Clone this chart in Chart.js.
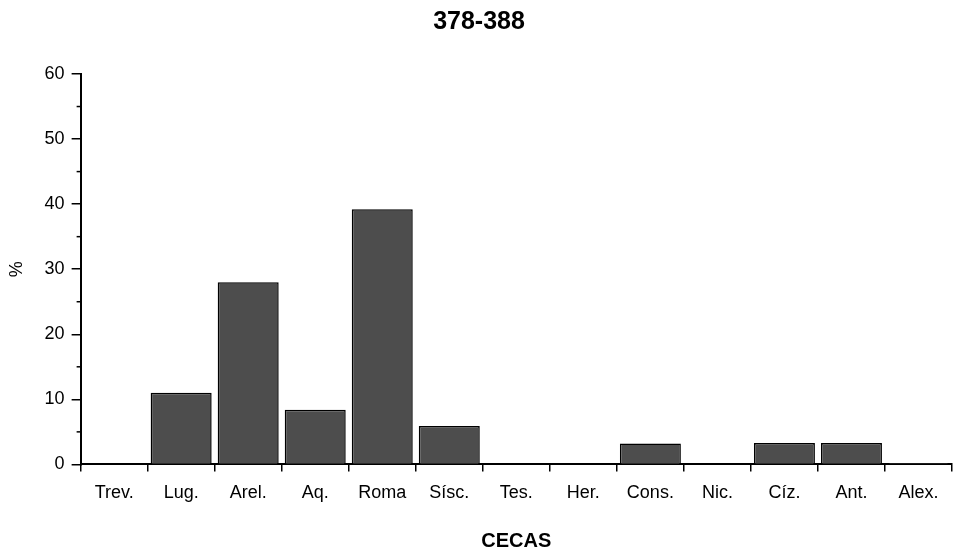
<!DOCTYPE html>
<html>
<head>
<meta charset="utf-8">
<script src="https://cdn.jsdelivr.net/npm/chart.js@4"></script>
<style>
  html, body { margin: 0; padding: 0; background: #fff; }
  #wrap { width: 961px; height: 554px; }
</style>
</head>
<body>
<div id="wrap"><canvas id="chart"></canvas></div>
<script>
// Mints (cecas) and share of coins, 378-388
const cecas = ['Trev.', 'Lug.', 'Arel.', 'Aq.', 'Roma', 'Sísc.', 'Tes.', 'Her.', 'Cons.', 'Nic.', 'Cíz.', 'Ant.', 'Alex.'];
const percent = [0, 11, 28, 8.4, 39.2, 5.9, 0, 0, 3.2, 0, 3.3, 3.3, 0.2];
const yTicks = [0, 10, 20, 30, 40, 50, 60];

const FONT = "'Liberation Sans', Arial, Helvetica, sans-serif";

// short minor ticks at the 5s on the y axis
const minorTicks = {
    id: 'minorTicks',
    afterDraw(chart) {
        const y = chart.scales.y, ctx = chart.ctx;
        const x0 = chart.chartArea.left;
        ctx.save();
        ctx.strokeStyle = '#000';
        ctx.lineWidth = 1.5;
        for (let v = 5; v < 60; v += 10) {
            const py = y.getPixelForValue(v);
            ctx.beginPath();
            ctx.moveTo(x0 - 4, py);
            ctx.lineTo(x0, py);
            ctx.stroke();
        }
        ctx.restore();
    }
};

new Chart(document.getElementById('chart'), {
    type: 'bar',
    data: {
        labels: cecas,
        datasets: [{
            data: percent,
            backgroundColor: '#4d4d4d',
            borderColor: '#000',
            borderWidth: 1.5,
            categoryPercentage: 1,
            barPercentage: 0.91
        }]
    },
    options: {
        responsive: true,
        maintainAspectRatio: false,
        animation: false,
        layout: { padding: { left: 6, right: 9, top: 2, bottom: 1 } },
        plugins: {
            legend: { display: false },
            tooltip: { enabled: false },
            title: {
                display: true,
                text: '378-388',
                color: '#000',
                font: { family: FONT, size: 25, weight: 'bold' },
                padding: { top: 5, bottom: 37 }
            }
        },
        scales: {
            x: {
                offset: true,
                grid: { display: true, drawOnChartArea: false, offset: true, color: '#000', lineWidth: 1.5, tickLength: 7 },
                border: { display: true, color: '#000', width: 2 },
                ticks: { color: '#000', font: { family: FONT, size: 18 }, padding: 11, maxRotation: 0, autoSkip: false },
                title: {
                    display: true, text: 'CECAS', color: '#000',
                    font: { family: FONT, size: 20, weight: 'bold' },
                    padding: { top: 14, bottom: 0 }
                }
            },
            y: {
                min: 0, max: 60,
                afterBuildTicks: scale => { scale.ticks = yTicks.map(v => ({ value: v })); },
                grid: { display: true, drawOnChartArea: false, color: '#000', lineWidth: 1.5, tickLength: 9 },
                border: { display: true, color: '#000', width: 2 },
                ticks: { color: '#000', font: { family: FONT, size: 18 }, padding: 7 },
                title: {
                    display: true, text: '%', color: '#000',
                    font: { family: FONT, size: 18 },
                    padding: { top: 0, bottom: 10 }
                }
            }
        }
    },
    plugins: [minorTicks]
});
</script>
</body>
</html>
